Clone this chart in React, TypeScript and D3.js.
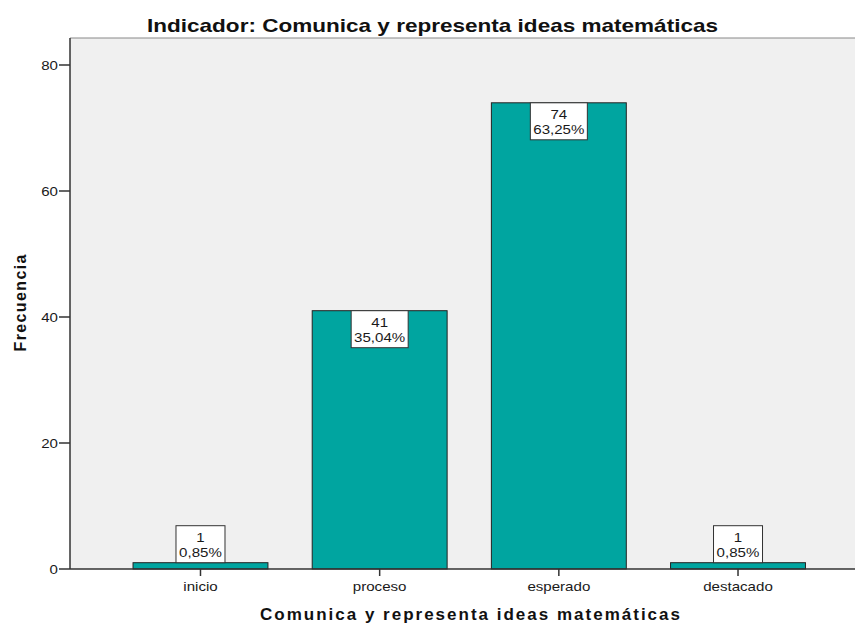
import React from "react";
import * as d3 from "d3";

const categories = ["inicio", "proceso", "esperado", "destacado"];
const counts = [1, 41, 74, 1];
const percents = ["0,85%", "35,04%", "63,25%", "0,85%"];
const yTicks = [0, 20, 40, 60, 80];

const W = 855;
const H = 625;
const FONT = "Arial, 'Liberation Sans', sans-serif";
const STRETCH = 1.16;

let ctx: CanvasRenderingContext2D | null = null;
function textWidth(t: string, size: number) {
  if (!ctx) ctx = document.createElement("canvas").getContext("2d");
  if (!ctx) return t.length * size * 0.55;
  ctx.font = `${size}px Arial, 'Liberation Sans', sans-serif`;
  return ctx.measureText(t).width;
}

function SmallText(props: { x: number; y: number; anchor: string; children: string | number }) {
  const s = String(props.children);
  const w = textWidth(s, 13) * STRETCH;
  return (
    <text
      x={props.x}
      y={props.y}
      textAnchor={props.anchor as any}
      fontSize={13}
      fill="#1a1a1a"
      textLength={w}
      lengthAdjust="spacingAndGlyphs"
    >
      {s}
    </text>
  );
}

export default function App() {
  const plotLeft = 70;
  const plotTop = 38;
  const plotRight = 855;
  const plotBottom = 569;

  const y = d3.scaleLinear().domain([0, 80]).range([plotBottom, 65]);
  const x = d3
    .scaleBand<string>()
    .domain(categories)
    .range([110.9, 827.6])
    .paddingInner(0.247)
    .paddingOuter(0.1235);

  const boxH = 37;

  return (
    <svg
      width={W}
      height={H}
      style={{ position: "absolute", left: 0, top: 0, background: "#fff" }}
      fontFamily={FONT}
    >
      <rect x={plotLeft} y={plotTop} width={plotRight - plotLeft} height={plotBottom - plotTop} fill="#f0f0f0" />
      <line x1={plotLeft} x2={plotRight} y1={plotTop} y2={plotTop} stroke="#888" strokeWidth={1} />

      {categories.map((c, i) => {
        const bx = x(c)!;
        const bw = x.bandwidth();
        const by = y(counts[i]);
        const bh = plotBottom - by;
        return (
          <rect key={c} x={bx} y={by} width={bw} height={bh} fill="#00a5a0" stroke="#222" strokeWidth={1} />
        );
      })}

      {categories.map((c, i) => {
        const cx = x(c)! + x.bandwidth() / 2;
        const by = y(counts[i]);
        const bh = plotBottom - by;
        const tw = Math.max(textWidth(String(counts[i]), 13), textWidth(percents[i], 13)) * STRETCH;
        const bw = Math.round(tw + 6);
        const top = bh >= boxH ? by : by - boxH;
        return (
          <g key={"lab" + c}>
            <rect x={cx - bw / 2} y={top} width={bw} height={boxH} fill="#fff" stroke="#333" strokeWidth={1} />
            <SmallText x={cx} y={top + 16} anchor="middle">
              {counts[i]}
            </SmallText>
            <SmallText x={cx} y={top + 31} anchor="middle">
              {percents[i]}
            </SmallText>
          </g>
        );
      })}

      {/* y axis */}
      <line x1={plotLeft} x2={plotLeft} y1={plotTop} y2={plotBottom} stroke="#333" strokeWidth={1.5} />
      {yTicks.map((t) => (
        <g key={t}>
          <line x1={plotLeft - 11} x2={plotLeft} y1={y(t)} y2={y(t)} stroke="#333" strokeWidth={1.5} />
          <SmallText x={plotLeft - 12} y={y(t) + 4.5} anchor="end">
            {t}
          </SmallText>
        </g>
      ))}

      {/* x axis */}
      <line x1={plotLeft} x2={plotRight} y1={plotBottom} y2={plotBottom} stroke="#333" strokeWidth={1.5} />
      {categories.map((c) => {
        const cx = x(c)! + x.bandwidth() / 2;
        return (
          <g key={"t" + c}>
            <line x1={cx} x2={cx} y1={plotBottom} y2={plotBottom + 7} stroke="#333" strokeWidth={1.5} />
            <SmallText x={cx} y={591} anchor="middle">
              {c}
            </SmallText>
          </g>
        );
      })}

      <text
        x={432.5}
        y={32}
        textAnchor="middle"
        fontSize={19}
        fontWeight="bold"
        fill="#111"
        textLength={571}
        lengthAdjust="spacingAndGlyphs"
      >
        Indicador: Comunica y representa ideas matemáticas
      </text>

      <text
        x={470}
        y={620}
        textAnchor="middle"
        fontSize={17}
        fontWeight="bold"
        fill="#111"
        textLength={420}
        lengthAdjust="spacing"
      >
        Comunica y representa ideas matemáticas
      </text>

      <text
        transform={`translate(26,303) rotate(-90)`}
        textAnchor="middle"
        fontSize={16}
        fontWeight="bold"
        fill="#111"
        textLength={97}
        lengthAdjust="spacing"
      >
        Frecuencia
      </text>
    </svg>
  );
}
